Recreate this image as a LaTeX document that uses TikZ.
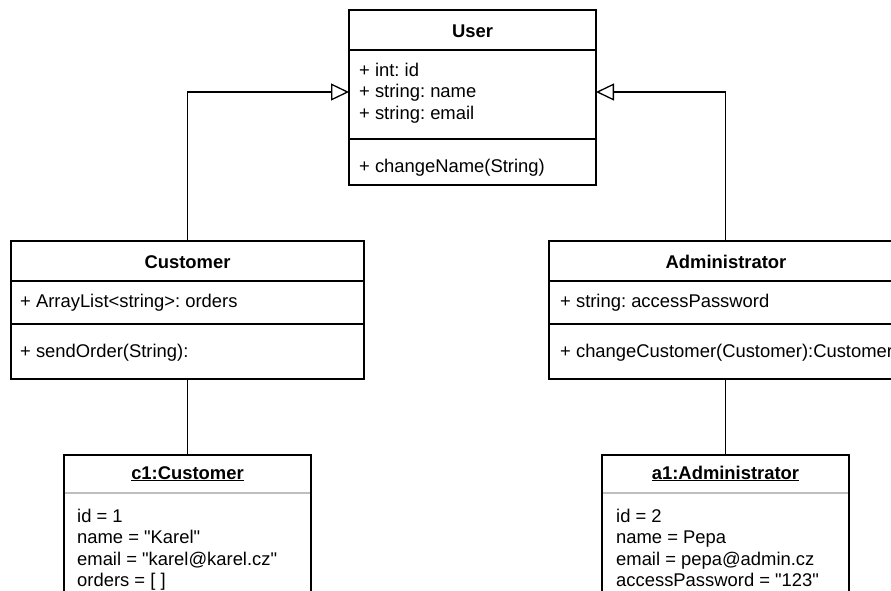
\documentclass[tikz,border=0pt]{standalone}
\usepackage{fontspec}
\setmainfont{Liberation Sans}
\usetikzlibrary{arrows.meta,calc}
\definecolor{objline}{RGB}{190,190,190}
% straight double quote, taken as a glyph so no text mapping touches it
\newcommand{\dq}{\XeTeXglyph\XeTeXglyphindex "quotedbl" }
\frenchspacing
\begin{document}
\begin{tikzpicture}[x=1pt,y=-1pt,
  cls/.style={draw, line width=1.3pt, anchor=north west, inner sep=0pt, outer sep=0pt},
  sep/.style={line width=1.3pt},
  objsep/.style={line width=1.2pt, draw=objline},
  txt/.style={anchor=base west, inner sep=0pt, font=\fontsize{18.4}{22}\selectfont},
  ttl/.style={anchor=base, inner sep=0pt, font=\fontsize{18.4}{22}\selectfont\bfseries},
  inh/.style={line width=1.3pt, -{Triangle[open, length=18pt, width=17pt, line width=1.3pt]}},
  link/.style={line width=1.3pt}]
\useasboundingbox (0,0) rectangle (891,590);
\clip (0,0) rectangle (891,590);

% ---- class User ----
\node[cls, minimum width=247pt, minimum height=175pt] (user) at (349,10) {};
\draw[sep] (349,50) -- (596,50);
\draw[sep] (349,139) -- (596,139);
\node[ttl] (userT) at (472.5,37) {User};
\node[txt] (uid) at (359,76) {+ int: id};
\node[txt] (uname) at (359,97.6) {+ string: name};
\node[txt] (uemail) at (359,119.2) {+ string: email};
\node[txt] (uchg) at (359,172) {+ changeName(String)};

% ---- class Customer ----
\node[cls, minimum width=353pt, minimum height=138pt] (customer) at (11,241) {};
\draw[sep] (11,281) -- (364,281);
\draw[sep] (11,324) -- (364,324);
\node[ttl] (custT) at (187.5,268) {Customer};
\node[txt] (corders) at (20,307) {+ ArrayList<string>: orders};
\node[txt] (csend) at (20,357) {+ sendOrder(String):};

% ---- class Administrator (runs past the right edge) ----
\node[cls, minimum width=353pt, minimum height=138pt] (admin) at (549,241) {};
\draw[sep] (549,281) -- (902,281);
\draw[sep] (549,324) -- (902,324);
\node[ttl] (adminT) at (726,268) {Administrator};
\node[txt] (apass) at (560,307) {+ string: accessPassword};
\node[txt] (achg) at (560,357) {+ changeCustomer(Customer):Customer};

% ---- object c1 ----
\node[cls, minimum width=247pt, minimum height=175pt] (c1) at (64,455) {};
\draw[objsep] (64.7,493) -- (310.3,493);
\node[ttl] (c1T) at (187.5,479) {\underline{c1:Customer}};
\node[txt] (c1a) at (77,522) {id = 1};
\node[txt] (c1b) at (77,543.6) {name = {\dq}Karel{\dq}};
\node[txt] (c1c) at (77,565.2) {email = {\dq}karel@karel.cz{\dq}};
\node[txt] (c1d) at (77,586.8) {orders = [ ]};

% ---- object a1 ----
\node[cls, minimum width=247pt, minimum height=175pt] (a1) at (602,455) {};
\draw[objsep] (602.7,493) -- (848.3,493);
\node[ttl] (a1T) at (725.5,479) {\underline{a1:Administrator}};
\node[txt] (a1a) at (616,522) {id = 2};
\node[txt] (a1b) at (616,543.6) {name = Pepa};
\node[txt] (a1c) at (616,565.2) {email = pepa@admin.cz};
\node[txt] (a1d) at (616,586.8) {accessPassword = {\dq}123{\dq}};

% ---- generalisation ----
\draw[inh] (customer.north) |- ($(user.north west)+(0,82)$);
\draw[inh] (admin.north) |- ($(user.north east)+(0,82)$);

% ---- instance links ----
\draw[link] (customer.south) -- (c1.north);
\draw[link] (admin.south) -- (a1.north);
\end{tikzpicture}
\end{document}
